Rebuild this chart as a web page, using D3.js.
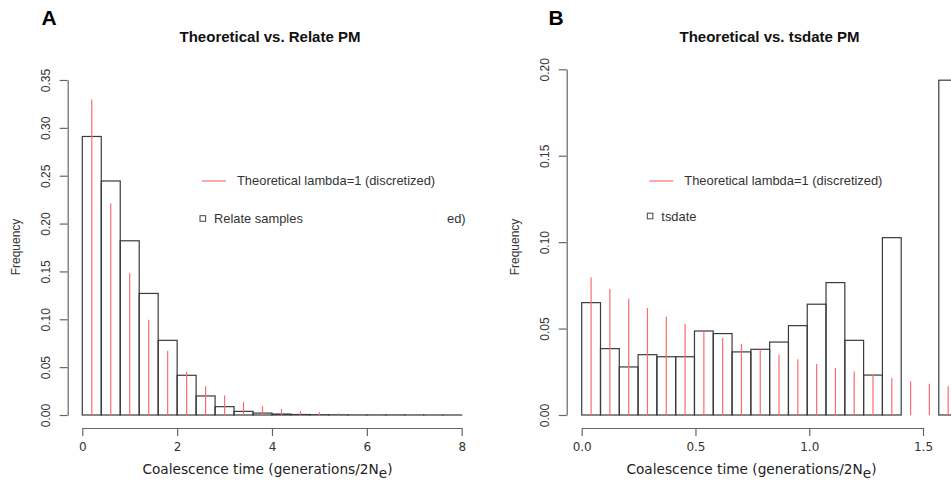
<!DOCTYPE html>
<html>
<head>
<meta charset="utf-8">
<script src="https://cdn.jsdelivr.net/npm/d3@7"></script>
<style>
  body { margin: 0; background: #fff; }
  svg { display: block; }
  .tick text { fill: #333; }
</style>
</head>
<body>
<script>
// Panel A: Relate PM, bins of width 0.4
let relateMid = [0.2, 0.6, 1.0, 1.4, 1.8, 2.2, 2.6, 3.0, 3.4, 3.8,
                 4.2, 4.6, 5.0, 5.4, 5.8, 6.2, 6.6, 7.0, 7.4, 7.8];
let relateFreq = [0.291, 0.2445, 0.182, 0.127, 0.078, 0.0415, 0.0199, 0.0087, 0.0038, 0.002,
                  0.001, 0.0005, 0.0003, 0.0002, 0.0001, 0.0001, 0.0001, 0.00005, 0.00003, 0.00002];
let relateTheory = [0.3297, 0.221, 0.148, 0.0995, 0.067, 0.045, 0.030, 0.0205, 0.0138, 0.0092,
                    0.0062, 0.0042, 0.0028, 0.0019, 0.0012, 0.0008, 0.0006, 0.0004, 0.0003, 0.0002];
let relateBinW = 0.4;
let relateXTicks = [0, 2, 4, 6, 8];
let relateYTicks = [0, 0.05, 0.10, 0.15, 0.20, 0.25, 0.30, 0.35];

// Panel B: tsdate PM, bins of width ~0.0826
let tsdateMid = [0.0413, 0.1239, 0.2065, 0.2891, 0.3717, 0.4543, 0.5369, 0.6195, 0.7021, 0.7847,
                 0.8673, 0.9499, 1.0325, 1.1151, 1.1977, 1.2803, 1.3629, 1.4455, 1.5281, 1.6107];
let tsdateFreq = [0.065, 0.0384, 0.0278, 0.0349, 0.0337, 0.0337, 0.0486, 0.0471, 0.0365, 0.038,
                  0.0422, 0.0517, 0.0641, 0.0766, 0.0432, 0.0231, 0.1026, 0, 0, 0.1937];
let tsdateTheory = [0.0795, 0.0729, 0.0673, 0.0619, 0.0569, 0.0527, 0.0486, 0.0446, 0.0411, 0.038,
                    0.0349, 0.0322, 0.0295, 0.0272, 0.0251, 0.0231, 0.0214, 0.0195, 0.0181, 0.0166];
let tsdateBinW = 0.0826;
let tsdateXTicks = [0, 0.5, 1.0, 1.5];
let tsdateYTicks = [0, 0.05, 0.10, 0.15, 0.20];

let w = 951;
let h = 483;
let axisCol = '#666';
let barCol = '#3a3a3a';
let redCol = '#ff6b6b';
let sansR = 'Liberation Sans, Arial, sans-serif';
let sansD = 'DejaVu Sans, sans-serif';

let svg = d3.select('body').append('svg').attr('width', w).attr('height', h);

function drawPanel(p) {
  let g = svg.append('g');

  let xScale = d3.scaleLinear().domain(p.xDomain).range(p.xRange);
  let yScale = d3.scaleLinear().domain(p.yDomain).range([415, p.yTop]);

  // histogram bars
  g.selectAll('.bars')
    .data(p.mid.map((m, i) => ({m: m, f: p.freq[i]})))
    .enter()
    .append('rect')
    .classed('bars', true)
    .attr('x', (d) => xScale(d.m - p.binW / 2))
    .attr('width', (d) => xScale(d.m + p.binW / 2) - xScale(d.m - p.binW / 2))
    .attr('y', (d) => yScale(d.f))
    .attr('height', (d) => yScale(0) - yScale(d.f))
    .style('fill', 'none')
    .style('stroke', barCol)
    .style('stroke-width', 1.2);

  // theoretical lines
  g.selectAll('.theory')
    .data(p.mid.map((m, i) => ({m: m, t: p.theory[i]})))
    .enter()
    .append('line')
    .classed('theory', true)
    .attr('x1', (d) => xScale(d.m))
    .attr('x2', (d) => xScale(d.m))
    .attr('y1', yScale(0))
    .attr('y2', (d) => yScale(d.t))
    .style('stroke', redCol)
    .style('stroke-width', 1.2);

  // x axis
  let xAxis = d3.axisBottom(xScale)
    .tickValues(p.xTicks)
    .tickFormat(p.xFmt)
    .tickSize(8)
    .tickSizeOuter(0)
    .tickPadding(6);
  let xg = g.append('g').attr('transform', 'translate(0, 428)').call(xAxis);
  xg.selectAll('path, line').style('stroke', axisCol).style('stroke-width', 1.2);
  xg.selectAll('text').style('font-family', sansD).style('font-size', '12px');

  // y axis, labels turned like R does
  let yAxis = d3.axisLeft(yScale)
    .tickValues(p.yTicks)
    .tickFormat(d3.format('.2f'))
    .tickSize(8)
    .tickSizeOuter(0);
  let yg = g.append('g').attr('transform', `translate(${p.yAxisX}, 0)`).call(yAxis);
  yg.selectAll('path, line').style('stroke', axisCol).style('stroke-width', 1.2);
  yg.selectAll('text')
    .attr('transform', 'rotate(-90)')
    .attr('x', 0)
    .attr('dy', 0)
    .attr('y', -(p.yAxisX - p.yLabX))
    .style('text-anchor', 'middle')
    .style('font-family', sansR)
    .style('font-size', '12px');

  // panel letter and title
  svg.append('text').attr('x', p.letterX).attr('y', 25).text(p.letter)
    .style('font-family', sansR).style('font-weight', 'bold').style('font-size', '21px').style('fill', '#000');
  svg.append('text').attr('x', p.titleX).attr('y', 42).text(p.title)
    .style('text-anchor', 'middle').style('font-family', sansR).style('font-weight', 'bold')
    .style('font-size', '15px').style('fill', '#111');

  // y label
  svg.append('text')
    .attr('transform', `translate(${p.yLabX - 30}, 247) rotate(-90)`)
    .text('Frequency')
    .style('text-anchor', 'middle').style('font-family', sansR).style('font-size', '12px').style('fill', '#333');

  // x label with subscript
  let xt = svg.append('text').attr('x', p.xTitleX).attr('y', 474)
    .style('text-anchor', 'middle').style('font-family', sansD).style('font-size', '13.7px').style('fill', '#222');
  xt.append('tspan').text('Coalescence time (generations/2N');
  xt.append('tspan').attr('dy', 4).text('e');
  xt.append('tspan').attr('dy', -4).text(')');

  // legend
  svg.append('line').attr('x1', p.legX).attr('x2', p.legX + 24).attr('y1', 181).attr('y2', 181)
    .style('stroke', redCol).style('stroke-width', 1.2);
  svg.append('text').attr('x', p.legX + 35).attr('y', 185).text('Theoretical lambda=1 (discretized)')
    .style('font-family', sansR).style('font-size', '12.9px').style('fill', '#333');
  svg.append('rect').attr('x', p.legX - 2).attr('y', p.sqY - 2.8).attr('width', 5.6).attr('height', 5.6)
    .style('fill', 'none').style('stroke', '#444').style('stroke-width', 1);
  svg.append('text').attr('x', p.legX + 12).attr('y', p.sqY + 4.5).text(p.sampleLab)
    .style('font-family', sansR).style('font-size', '12.9px').style('fill', '#333');
  if (p.extra) {
    svg.append('text').attr('x', p.extra).attr('y', p.sqY + 4.5).text('ed)')
      .style('font-family', sansR).style('font-size', '12.9px').style('fill', '#333');
  }
}

drawPanel({
  mid: relateMid, freq: relateFreq, theory: relateTheory, binW: relateBinW,
  xDomain: [0, 8], xRange: [82.3, 461.7], yDomain: [0, 0.35], yTop: 80,
  xTicks: relateXTicks, yTicks: relateYTicks, xFmt: d3.format('d'),
  yAxisX: 67.7, yLabX: 50, letter: 'A', letterX: 41.5,
  title: 'Theoretical vs. Relate PM', titleX: 270, xTitleX: 267.5,
  legX: 202, sqY: 218.5, sampleLab: 'Relate samples', extra: 447
});

drawPanel({
  mid: tsdateMid, freq: tsdateFreq, theory: tsdateTheory, binW: tsdateBinW,
  xDomain: [0, 1.5], xRange: [581.7, 923], yDomain: [0, 0.2], yTop: 69.3,
  xTicks: tsdateXTicks, yTicks: tsdateYTicks, xFmt: d3.format('.1f'),
  yAxisX: 566.7, yLabX: 549, letter: 'B', letterX: 548.5,
  title: 'Theoretical vs. tsdate PM', titleX: 769.5, xTitleX: 751.5,
  legX: 649.3, sqY: 216, sampleLab: 'tsdate', extra: null
});
</script>
</body>
</html>
